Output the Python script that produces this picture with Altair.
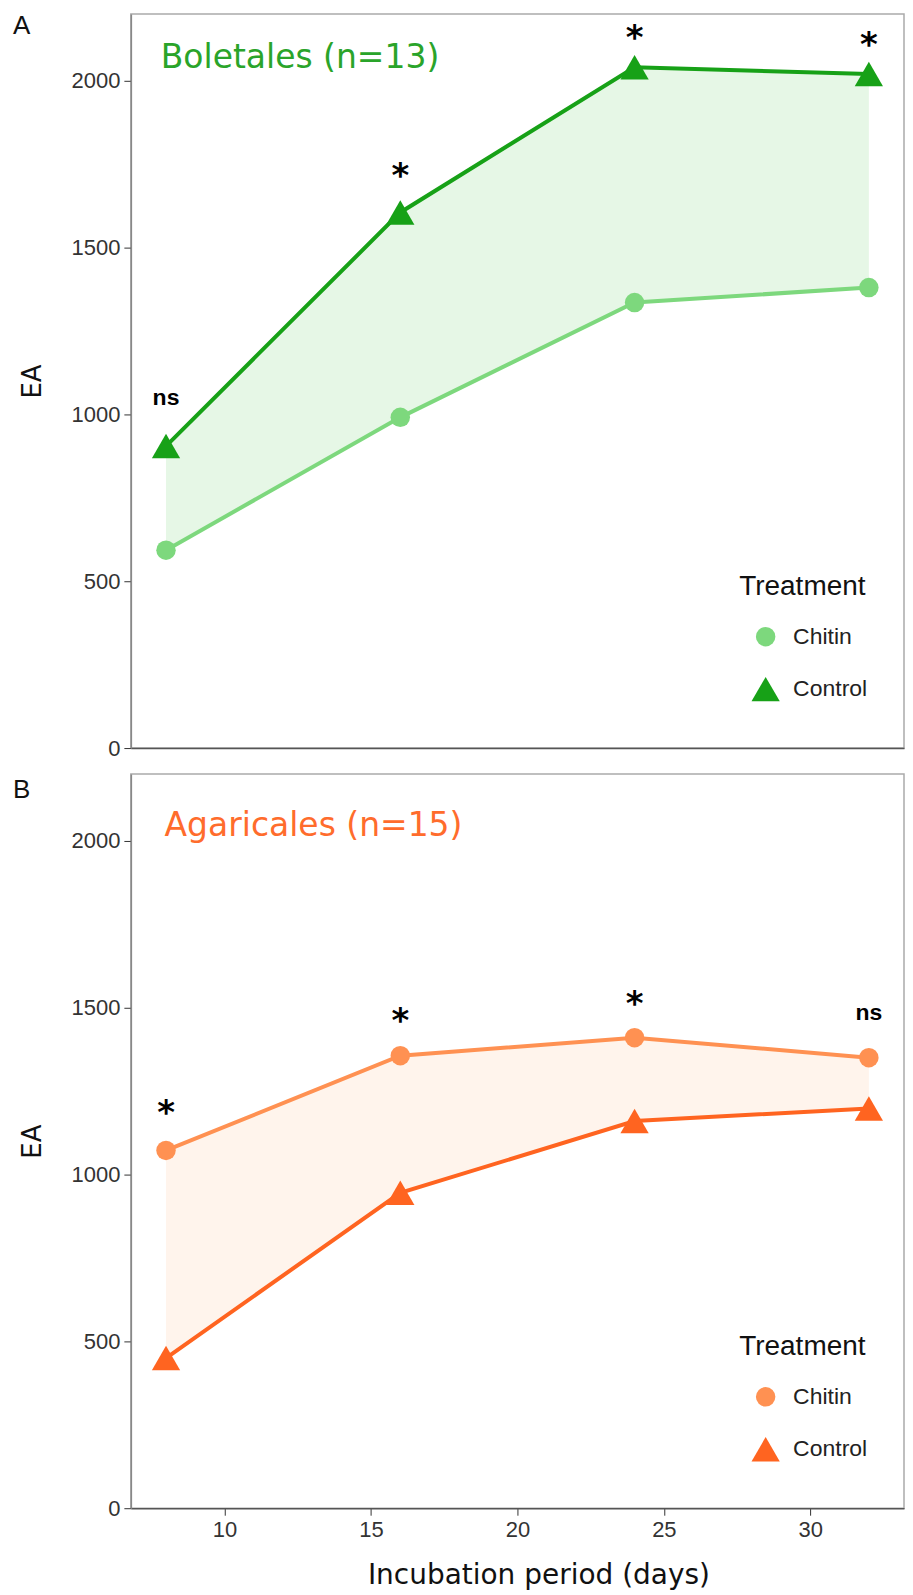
import altair as alt
import pandas as pd

# ---- data ----
days = [8, 16, 24, 32]
treatments = ["Chitin", "Control"]

bol_chitin = [593, 991, 1335, 1380]
bol_control = [905, 1605, 2040, 2020]
bol_sig = ["ns", "*", "*", "*"]
bol_sig_y = [1048, 1722, 2137, 2117]

aga_chitin = [1072, 1356, 1410, 1350]
aga_control = [450, 945, 1160, 1198]
aga_sig = ["*", "*", "*", "ns"]
aga_sig_y = [1192, 1470, 1521, 1485]

group_titles = ["Boletales (n=13)", "Agaricales (n=15)"]
group_title_x = [7.82, 7.95]
group_title_y = [2067, 2045]
panel_letters = ["A", "B"]

x_ticks = [10, 15, 20, 25, 30]
y_ticks = [0, 500, 1000, 1500, 2000]

W = 774
H = 735


def panel(chitin, control, sig, sig_y, title, tx, ty, letter,
          light, dark, fill, title_color, show_x, letter_y):
    long = pd.DataFrame({
        "day": days * 2,
        "EA": chitin + control,
        "Treatment": ["Chitin"] * 4 + ["Control"] * 4,
    })
    wide = pd.DataFrame({"day": days, "chitin": chitin, "control": control})
    ann = pd.DataFrame({"day": days, "y": sig_y, "label": sig})
    lab = pd.DataFrame({"day": [tx], "y": [ty], "label": [title]})
    let = pd.DataFrame({"label": [letter]})

    xs = alt.Scale(domain=[6.8, 33.2], nice=False, zero=False)
    ys = alt.Scale(domain=[0, 2200], nice=False)
    if show_x:
        xaxis = alt.Axis(values=x_ticks, title="Incubation period (days)", grid=False,
                         labelFont="Liberation Sans", labelFontSize=22, labelColor="#333",
                         tickColor="#333", tickSize=7, labelPadding=4,
                         domainColor="#555", domainWidth=1.5,
                         titleFont="DejaVu Sans", titleFontSize=28, titleFontWeight="normal",
                         titleColor="#111", titlePadding=21, titleX=408)
    else:
        xaxis = alt.Axis(values=x_ticks, labels=False, ticks=False, title=None, grid=False,
                         domainColor="#555", domainWidth=1.5)
    yaxis = alt.Axis(values=y_ticks, title="EA", grid=False, format="d",
                     labelFont="Liberation Sans", labelFontSize=22, labelColor="#333",
                     tickColor="#333", tickSize=7, labelPadding=4,
                     domainColor="#888", domainWidth=1.5,
                     titleFont="DejaVu Sans", titleFontSize=26, titleFontWeight="normal",
                     titleColor="#111", titlePadding=26)

    X = alt.X("day:Q", scale=xs, axis=xaxis)

    area = alt.Chart(wide).mark_area(color=fill, opacity=1).encode(
        x=X,
        y=alt.Y("chitin:Q", scale=ys, axis=yaxis),
        y2="control:Q",
    )
    line_ch = alt.Chart(long).transform_filter(alt.datum.Treatment == "Chitin").mark_line(
        color=light, strokeWidth=4).encode(x=X, y=alt.Y("EA:Q", scale=ys, axis=yaxis))
    line_co = alt.Chart(long).transform_filter(alt.datum.Treatment == "Control").mark_line(
        color=dark, strokeWidth=4).encode(x=X, y=alt.Y("EA:Q", scale=ys, axis=yaxis))

    legend = alt.Legend(
        title="Treatment", orient="none", legendX=609, legendY=560,
        titleFont="Liberation Sans", titleFontSize=28, titleFontWeight="normal",
        titleColor="#111", titlePadding=24,
        labelFont="Liberation Sans", labelFontSize=23, labelColor="#222",
        symbolOffset=12, labelOffset=13, rowPadding=25.5, symbolStrokeWidth=0,
        symbolOpacity=1,
    )
    pts = alt.Chart(long).mark_point(filled=True, opacity=1).encode(
        x=X,
        y=alt.Y("EA:Q", scale=ys, axis=yaxis),
        color=alt.Color("Treatment:N", scale=alt.Scale(domain=treatments, range=[light, dark]),
                        legend=legend),
        shape=alt.Shape("Treatment:N", scale=alt.Scale(domain=treatments,
                                                       range=["circle", "triangle-up"]),
                        legend=legend),
        size=alt.Size("Treatment:N", scale=alt.Scale(domain=treatments, range=[380, 800]),
                      legend=legend),
    )
    star = alt.Chart(ann).transform_filter(alt.datum.label == "*").mark_text(
        font="DejaVu Sans", fontWeight="bold", fontSize=34, color="#000",
        baseline="middle", dy=4).encode(
        x=X, y=alt.Y("y:Q", scale=ys, axis=yaxis), text="label:N")
    ns = alt.Chart(ann).transform_filter(alt.datum.label == "ns").mark_text(
        font="Liberation Sans", fontWeight="bold", fontSize=23, color="#000",
        baseline="middle").encode(
        x=X, y=alt.Y("y:Q", scale=ys, axis=yaxis), text="label:N")
    ttl = alt.Chart(lab).mark_text(
        font="DejaVu Sans", fontSize=33, color=title_color, align="left",
        baseline="middle").encode(
        x=X, y=alt.Y("y:Q", scale=ys, axis=yaxis), text="label:N")
    letter_mark = alt.Chart(let).mark_text(
        font="Liberation Sans", fontSize=26, color="#111", align="left",
        baseline="top").encode(text="label:N", x=alt.value(-118), y=alt.value(letter_y))

    return alt.layer(area, line_ch, line_co, pts, star, ns, ttl,
                     letter_mark).properties(width=W, height=H)


pa = panel(bol_chitin, bol_control, bol_sig, bol_sig_y, group_titles[0],
           group_title_x[0], group_title_y[0], panel_letters[0],
           "#7dd87d", "#17a117", "#e6f7e6", "#2aa42a", False, -1)
pb = panel(aga_chitin, aga_control, aga_sig, aga_sig_y, group_titles[1],
           group_title_x[1], group_title_y[1], panel_letters[1],
           "#ff9152", "#ff6420", "#fff4ec", "#ff6c2c", True, 3)

chart = alt.vconcat(pa, pb, spacing=26, bounds="flush").resolve_scale(
    color="independent", shape="independent", size="independent"
).properties(
    padding={"left": 4, "top": 3, "right": 0, "bottom": 0}
).configure_view(stroke="#aaaaaa", strokeWidth=1.5)

chart.save("out.html", embed_options={"renderer": "svg", "actions": False})
